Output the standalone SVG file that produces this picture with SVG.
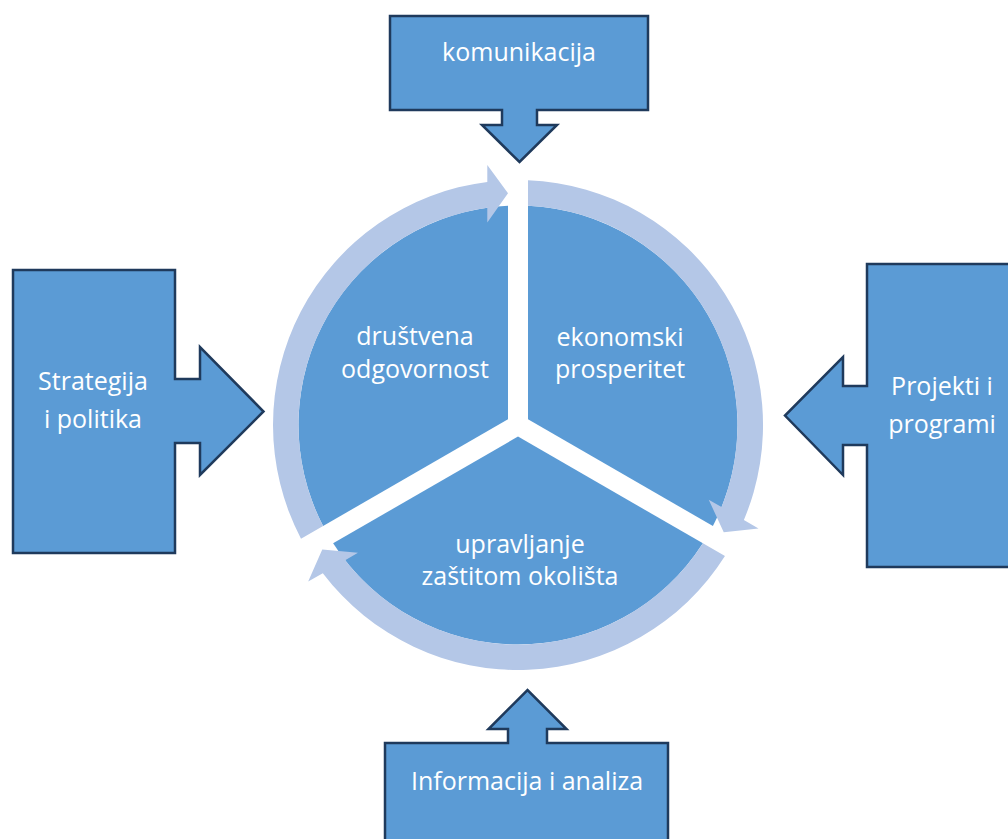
<svg xmlns="http://www.w3.org/2000/svg" xmlns:xlink="http://www.w3.org/1999/xlink" width="1008" height="839" viewBox="0 0 1008 839">
<style>
.seg{fill:#5B9BD5;}
.ring{fill:#B4C7E7;}
.callout{fill:#5B9BD5;stroke:#1F3A5C;stroke-width:2.5;stroke-linejoin:miter;}
.t{font-family:"Open Sans","Noto Sans","Liberation Sans",sans-serif;font-size:25px;fill:#FFFFFF;text-anchor:middle;}
</style>
<defs>
<path id="arcShape" class="ring" d="M301,538.7 A245,245 0 0 1 487.3,181.9 L487.3,165 L508,193.2 L487.3,222.5 L487.3,207.7 A219.5,219.5 0 0 0 323.1,526 Z"/>
</defs>
<rect width="1008" height="839" fill="#FFFFFF"/>
<g id="segment-drustvena">
<path class="seg" d="M508,419.2 L508,205.7 A219.5,219.5 0 0 0 323.1,526 Z"/>
<text class="t" x="415" y="345">društvena</text>
<text class="t" x="415" y="378">odgovornost</text>
</g>
<g id="segment-ekonomski">
<path class="seg" d="M528,419.2 L712.9,526 A219.5,219.5 0 0 0 528,205.7 Z"/>
<text class="t" x="620" y="346">ekonomski</text>
<text class="t" x="620" y="378">prosperitet</text>
</g>
<g id="segment-upravljanje">
<path class="seg" d="M518,436.6 L333.1,543.3 A219.5,219.5 0 0 0 702.9,543.3 Z"/>
<text class="t" x="520" y="553">upravljanje</text>
<text class="t" x="520" y="585">zaštitom okolišta</text>
</g>
<g id="connectors">
<use xlink:href="#arcShape" href="#arcShape"/>
<use xlink:href="#arcShape" href="#arcShape" transform="rotate(120 518 425)"/>
<use xlink:href="#arcShape" href="#arcShape" transform="rotate(240 518 425)"/>
</g>
<g id="node-komunikacija">
<path class="callout" d="M390,16 L648,16 L648,110 L537,110 L537,125 L557,125 L519.5,162 L482,125 L502,125 L502,110 L390,110 Z"/>
<text class="t" x="519" y="61">komunikacija</text>
</g>
<g id="node-strategija">
<path class="callout" d="M13,270 L175,270 L175,379 L200,379 L200,347 L263.5,411.5 L200,475 L200,443 L175,443 L175,553 L13,553 Z"/>
<text class="t" x="93" y="390">Strategija</text>
<text class="t" x="93" y="428">i politika</text>
</g>
<g id="node-projekti">
<path class="callout" d="M1030,264 L867,264 L867,386 L843,386 L843,357 L785,415.5 L843,475 L843,445 L867,445 L867,567 L1030,567 Z"/>
<text class="t" x="942" y="395">Projekti i</text>
<text class="t" x="942" y="433">programi</text>
</g>
<g id="node-informacija">
<path class="callout" d="M385,860 L385,743 L508,743 L508,729 L488.5,729 L527.5,690 L566.5,729 L547,729 L547,743 L668,743 L668,860 Z"/>
<text class="t" x="527" y="790">Informacija i analiza</text>
</g>
</svg>
